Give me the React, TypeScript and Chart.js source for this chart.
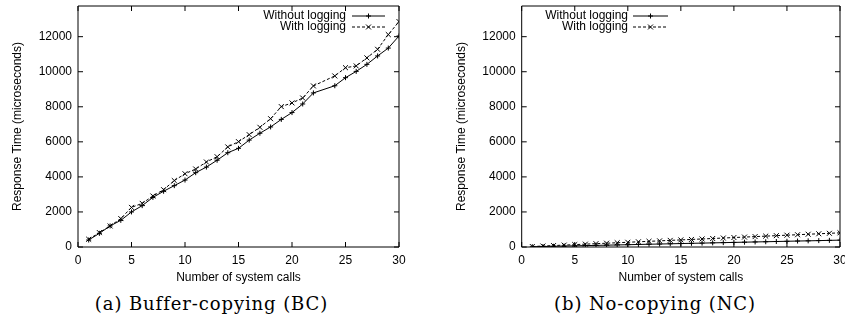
import React, { useEffect, useRef } from 'react';
import { Chart, registerables } from 'chart.js';

Chart.register(...registerables);

// ---------- data ----------
const seriesNames = ['Without logging', 'With logging'];
const xTitle = 'Number of system calls';
const yTitle = 'Response Time (microseconds)';
const captions = ['(a) Buffer-copying (BC)', '(b) No-copying (NC)'];

const xTicks = [0, 5, 10, 15, 20, 25, 30];
const yTicks = [0, 2000, 4000, 6000, 8000, 10000, 12000];

// (a) Buffer-copying
const bcCalls = [1, 2, 3, 4, 5, 6, 7, 8, 9, 10, 11, 12, 13, 14, 15, 16, 17, 18, 19, 20, 21, 22, 24, 25, 26, 27, 28, 29, 30];
const bcWithout = [400, 780, 1200, 1520, 2000, 2360, 2830, 3180, 3500, 3820, 4240, 4560, 4950, 5380, 5630, 6100, 6490, 6850, 7280, 7670, 8160, 8790, 9200, 9660, 10020, 10420, 10900, 11350, 12040];
const bcWith = [440, 820, 1200, 1620, 2260, 2490, 2910, 3270, 3790, 4180, 4450, 4850, 5150, 5710, 6010, 6410, 6830, 7320, 8010, 8220, 8500, 9190, 9760, 10230, 10330, 10790, 11280, 12120, 12860];

// (b) No-copying
const ncCalls = [1, 2, 3, 4, 5, 6, 7, 8, 9, 10, 11, 12, 13, 14, 15, 16, 17, 18, 19, 20, 21, 22, 23, 24, 25, 26, 27, 28, 29, 30];
const ncWithout = [15, 28, 40, 52, 66, 80, 92, 105, 118, 131, 145, 158, 170, 183, 197, 210, 222, 236, 249, 262, 275, 288, 300, 313, 327, 340, 352, 365, 378, 392];
const ncWith = [28, 55, 82, 108, 136, 162, 190, 216, 243, 270, 297, 324, 350, 378, 405, 431, 458, 485, 512, 540, 566, 593, 620, 647, 674, 700, 728, 755, 781, 808];

const X_MIN = 0;
const X_MAX = 30;
const Y_MIN = 0;
const Y_MAX = 13750;

const SANS = '"Liberation Sans", Arial, Helvetica, sans-serif';

function drawMarker(ctx: CanvasRenderingContext2D, style: string, x: number, y: number, r: number) {
  ctx.beginPath();
  if (style === 'cross') {
    ctx.moveTo(x - r, y); ctx.lineTo(x + r, y);
    ctx.moveTo(x, y - r); ctx.lineTo(x, y + r);
  } else {
    const d = r * Math.SQRT1_2;
    ctx.moveTo(x - d, y - d); ctx.lineTo(x + d, y + d);
    ctx.moveTo(x - d, y + d); ctx.lineTo(x + d, y - d);
  }
  ctx.stroke();
}

const gnuFrame = {
  id: 'gnuFrame',
  afterDatasetsDraw(chart: any, _args: any, opts: any) {
    const { ctx, chartArea } = chart;
    const { left, right, top, bottom } = chartArea;
    const xs = chart.scales.x;
    const ys = chart.scales.y;
    ctx.save();
    ctx.strokeStyle = '#000';
    ctx.lineWidth = 1;
    ctx.setLineDash([]);
    ctx.beginPath();
    ctx.rect(left, top, right - left, bottom - top);
    const L = 5;
    for (const v of xTicks) {
      const px = xs.getPixelForValue(v);
      ctx.moveTo(px, bottom); ctx.lineTo(px, bottom - L);
      ctx.moveTo(px, top); ctx.lineTo(px, top + L);
    }
    for (const v of yTicks) {
      const py = ys.getPixelForValue(v);
      ctx.moveTo(left, py); ctx.lineTo(left + L, py);
      ctx.moveTo(right, py); ctx.lineTo(right - L, py);
    }
    ctx.stroke();

    // legend
    ctx.font = '12px ' + SANS;
    ctx.fillStyle = '#000';
    ctx.textAlign = 'right';
    ctx.textBaseline = 'middle';
    chart.data.datasets.forEach((ds: any, i: number) => {
      const y = opts.rows[i];
      ctx.fillText(ds.label, opts.textRight, y);
      ctx.strokeStyle = '#000';
      ctx.lineWidth = 1;
      ctx.setLineDash(ds.borderDash || []);
      ctx.beginPath();
      ctx.moveTo(opts.lineStart, y);
      ctx.lineTo(opts.lineEnd, y);
      ctx.stroke();
      ctx.setLineDash([]);
      drawMarker(ctx, ds.pointStyle, (opts.lineStart + opts.lineEnd) / 2, y, ds.pointRadius);
    });
    ctx.restore();
  },
};

type PanelProps = {
  calls: number[];
  without: number[];
  withLog: number[];
  width: number;
  padLeft: number;
  padRight: number;
  legend: { textRight: number; lineStart: number; lineEnd: number; rows: number[] };
};

const CANVAS_H = 285;

function Panel({ calls, without, withLog, width, padLeft, padRight, legend }: PanelProps) {
  const ref = useRef<HTMLCanvasElement | null>(null);
  useEffect(() => {
    if (!ref.current) return;
    const chart = new Chart(ref.current, {
      type: 'line',
      data: {
        datasets: [
          {
            label: seriesNames[0],
            data: calls.map((c, i) => ({ x: c, y: without[i] })),
            borderColor: '#000',
            backgroundColor: '#000',
            borderWidth: 1,
            pointStyle: 'cross',
            pointRadius: 2.5,
            pointBorderWidth: 1,
            pointBorderColor: '#000',
            fill: false,
            tension: 0,
          },
          {
            label: seriesNames[1],
            data: calls.map((c, i) => ({ x: c, y: withLog[i] })),
            borderColor: '#000',
            backgroundColor: '#000',
            borderWidth: 1,
            borderDash: [3, 2],
            pointStyle: 'crossRot',
            pointRadius: 3.5,
            pointBorderWidth: 1,
            pointBorderColor: '#000',
            fill: false,
            tension: 0,
          },
        ],
      },
      options: {
        animation: false,
        responsive: false,
        devicePixelRatio: 1,
        layout: { padding: { left: padLeft, right: padRight, top: 6, bottom: 0 } },
        plugins: {
          legend: { display: false },
          tooltip: { enabled: false },
          gnuFrame: legend,
        } as any,
        scales: {
          x: {
            type: 'linear',
            min: X_MIN,
            max: X_MAX,
            grid: { display: false, drawTicks: false },
            border: { display: false },
            afterBuildTicks: (s: any) => { s.ticks = xTicks.map((v) => ({ value: v })); },
            afterFit: (s: any) => { s.height = 38; s.paddingLeft = 0; s.paddingRight = 0; },
            ticks: {
              color: '#000',
              padding: 6,
              maxRotation: 0,
              autoSkip: false,
              callback: (v: any) => String(v),
              font: { family: SANS, size: 12 },
            },
            title: {
              display: true,
              text: xTitle,
              color: '#000',
              padding: { top: 0, bottom: 0 },
              font: { family: SANS, size: 12 },
            },
          },
          y: {
            type: 'linear',
            min: Y_MIN,
            max: Y_MAX,
            grid: { display: false, drawTicks: false },
            border: { display: false },
            afterBuildTicks: (s: any) => { s.ticks = yTicks.map((v) => ({ value: v })); },
            afterFit: (s: any) => { s.width = 78; s.paddingTop = 0; s.paddingBottom = 0; },
            ticks: {
              color: '#000',
              padding: 6,
              autoSkip: false,
              callback: (v: any) => String(v),
              font: { family: SANS, size: 12 },
            },
            title: {
              display: true,
              text: yTitle,
              color: '#000',
              padding: { top: 10.5, bottom: 0 },
              font: { family: SANS, size: 12 },
            },
          },
        },
      },
      plugins: [gnuFrame],
    } as any);
    return () => chart.destroy();
  }, []);
  return <canvas ref={ref} width={width} height={CANVAS_H} style={{ display: 'block' }} />;
}

const captionStyle: React.CSSProperties = {
  position: 'absolute',
  top: 292,
  transform: 'translateX(-50%)',
  whiteSpace: 'nowrap',
  fontFamily: '"DejaVu Serif", serif',
  fontSize: 18,
  letterSpacing: 0.9,
  lineHeight: '24px',
  color: '#000',
};

export default function App() {
  return (
    <div style={{ position: 'absolute', left: 0, top: 0, width: 845, height: 320, overflow: 'hidden', background: '#fff' }}>
      <div style={{ position: 'absolute', left: 0, top: 0, width: 420, height: CANVAS_H }}>
        <Panel
          calls={bcCalls}
          without={bcWithout}
          withLog={bcWith}
          width={420}
          padLeft={0}
          padRight={21}
          legend={{ textRight: 346, lineStart: 352, lineEnd: 385, rows: [16, 27] }}
        />
      </div>
      <div style={{ position: 'absolute', left: 420, top: 0, width: 425, height: CANVAS_H, overflow: 'hidden' }}>
        <Panel
          calls={ncCalls}
          without={ncWithout}
          withLog={ncWith}
          width={425}
          padLeft={23.7}
          padRight={3.3}
          legend={{ textRight: 208, lineStart: 213, lineEnd: 248, rows: [16, 27] }}
        />
      </div>
      <div style={{ ...captionStyle, left: 211.5 }}>{captions[0]}</div>
      <div style={{ ...captionStyle, left: 655 }}>{captions[1]}</div>
    </div>
  );
}
